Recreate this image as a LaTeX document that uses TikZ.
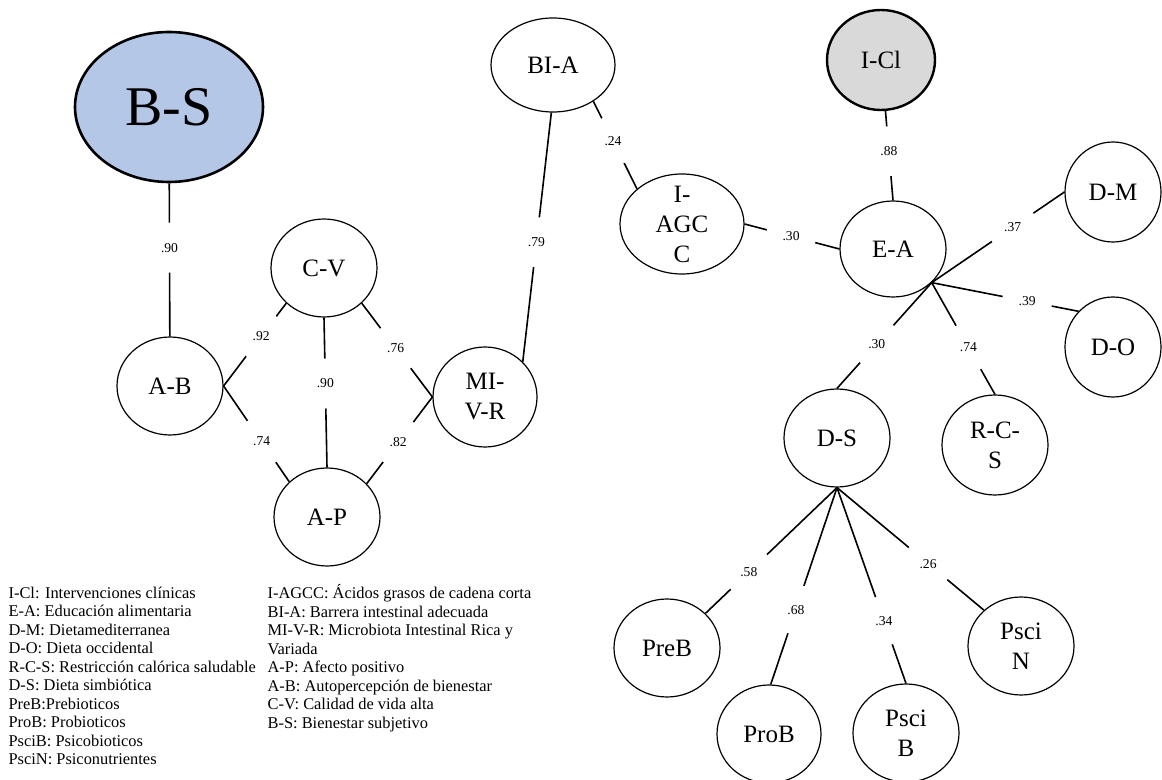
\documentclass[tikz,border=0pt]{standalone}
\usepackage{fontspec}
\setmainfont{Liberation Serif}
\usepackage{tikz}
\usetikzlibrary{shapes.geometric}

\definecolor{bsblue}{RGB}{180,199,231}
\definecolor{iclgray}{RGB}{217,217,217}

\begin{document}
\begin{tikzpicture}[x=0.5pt,y=-0.5pt,semithick,
  factor/.style={ellipse,draw,inner sep=0pt,minimum width=53pt,minimum height=49pt,
    align=center,font=\fontsize{12.5}{15}\selectfont},
  wt/.style={circle,fill=white,inner sep=0pt,minimum size=25pt,font=\fontsize{6.8}{7}\selectfont},
  legend/.style={align=left,inner sep=0pt,anchor=north west,font=\fontsize{8.2}{9.25}\selectfont},
  every edge/.style={draw,thick}]
\useasboundingbox (0,0) rectangle (1162,780);

\node[factor,fill=bsblue,line width=1.3pt,minimum width=94pt,minimum height=75pt,
      font=\fontsize{28}{30}\selectfont] (BS) at (169,107) {B-S};
\node[factor]   (AB)    at (170,386)  {A-B};
\node[factor]   (CV)    at (324,268)  {C-V};
\node[factor]   (AP)    at (327,517)  {A-P};
\node[factor,minimum width=52pt,minimum height=50pt]   (MIVR)  at (485,397)  {MI-\\V-R};
\node[factor,minimum width=62pt,minimum height=47pt]   (BIA)   at (553,65)   {BI-A};
\node[factor,minimum width=62pt,minimum height=50pt,inner ysep=-5pt] (IAGCC) at (682,224) {I-\\AGC\\C};
\node[factor,fill=iclgray,line width=1.2pt,minimum width=54pt,minimum height=50pt] (ICl) at (881,60) {I-Cl};
\node[factor,minimum height=48pt]   (EA)    at (893,249)  {E-A};
\node[factor,minimum width=48pt,minimum height=50pt]   (DM)    at (1113,192) {D-M};
\node[factor,minimum width=48pt,minimum height=50pt]   (DO)    at (1113,347) {D-O};
\node[factor,minimum height=50pt]   (RCS)   at (995,445)  {R-C-\\S};
\node[factor]   (DS)    at (837,438)  {D-S};
\node[factor]   (PreB)  at (667,648)  {PreB};
\node[factor,minimum width=52pt]   (ProB)  at (769,734)  {ProB};
\node[factor]   (PsciB) at (906,733)  {Psci\\B};
\node[factor]   (PsciN) at (1021,646) {Psci\\N};

\coordinate (EAp) at (EA.-41);

\path (BS)        edge node[wt,pos=.42] {.90} (AB)
      (AB.east)   edge node[wt,pos=.60] {.92} (CV.223)
      (AB.east)   edge node[wt,pos=.58] {.74} (AP.137)
      (CV.south)  edge node[wt,pos=.44] {.90} (AP.north)
      (CV.-43)    edge node[wt,pos=.48] {.76} (MIVR.west)
      (AP.40)     edge node[wt,pos=.48] {.82} (MIVR.west)
      (BIA.268)   edge node[wt,pos=.52] {.79} (MIVR.43)
      (BIA.-42)   edge node[wt,pos=.45] {.24} (IAGCC.142)
      (IAGCC.east) edge node[wt,pos=.49] {.30} (EA.west)
      (ICl.-85)   edge node[wt,pos=.45] {.88} (EA.north)
      (EAp)       edge node[wt,pos=.61] {.37} (DM.west)
      (EAp)       edge node[wt,pos=.65] {.39} (DO.134)
      (EAp)       edge node[wt,pos=.58] {.74} (RCS.north)
      (EAp)       edge node[wt,pos=.58] {.30} (DS.north)
      (DS.south)  edge node[wt,pos=.67] {.58} (PreB.42)
      (DS.south)  edge node[wt,pos=.62] {.68} (ProB.88)
      (DS.south)  edge node[wt,pos=.68] {.34} (PsciB.north)
      (DS.south)  edge node[wt,pos=.62] {.26} (PsciN.136);

\node[legend] (legL) at (8,586) {I-Cl: Intervenciones clínicas\\
  E-A: Educación alimentaria\\
  D-M: Dietamediterranea\\
  D-O: Dieta occidental\\
  R-C-S: Restricción calórica saludable\\
  D-S: Dieta simbiótica\\
  PreB:Prebioticos\\
  ProB: Probioticos\\
  PsciB: Psicobioticos\\
  PsciN: Psiconutrientes};
\node[legend] (legM) at (267,584) {I-AGCC: Ácidos grasos de cadena corta\\
  BI-A: Barrera intestinal adecuada\\
  MI-V-R: Microbiota Intestinal Rica y\\
  Variada\\
  A-P: Afecto positivo\\
  A-B: Autopercepción de bienestar\\
  C-V: Calidad de vida alta\\
  B-S: Bienestar subjetivo};
\end{tikzpicture}
\end{document}
